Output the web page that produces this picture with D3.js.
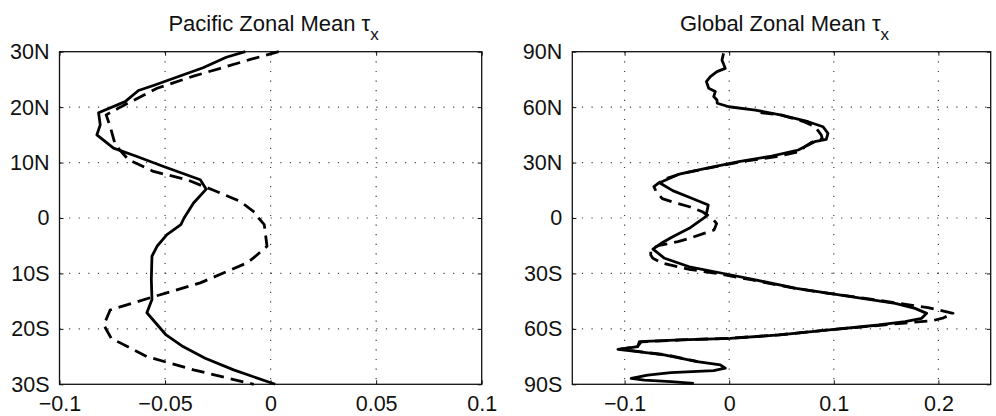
<!DOCTYPE html>
<html>
<head>
<meta charset="utf-8">
<script src="https://cdn.jsdelivr.net/npm/d3@7"></script>
<style>
  body { margin: 0; background: #fff; }
  text { font-family: "Liberation Sans", Arial, Helvetica, sans-serif; fill: #111; }
</style>
</head>
<body>
<script>
var WIDTH = 996;
var HEIGHT = 416;

// [latitude, tau_x]
var pacificSolid = [
  [30, -0.012], [29, -0.021], [27.1, -0.032], [23.9, -0.0555], [23.0, -0.0626],
  [21.0, -0.0689], [19.0, -0.0815], [16.8, -0.0807], [15.0, -0.0823], [12.6, -0.0744],
  [11.1, -0.0633], [9.3, -0.0507], [6.9, -0.0333], [5.2, -0.0305], [2.7, -0.0365],
  [0, -0.041], [-1.2, -0.0425], [-3.0, -0.0491], [-5.1, -0.0538], [-6.9, -0.0562],
  [-11.1, -0.0565], [-14.7, -0.0562], [-17.1, -0.0586], [-21.1, -0.0495],
  [-23.2, -0.0415], [-25.3, -0.031], [-27.4, -0.0175], [-30, 0.0022]
];
var pacificDashed = [
  [30, 0.0038], [28.6, -0.0096], [27.0, -0.0238], [25.6, -0.0365], [23.4, -0.0538],
  [20.0, -0.0712], [18.6, -0.0779], [16.5, -0.076], [13.2, -0.0736], [10.5, -0.0673],
  [8.4, -0.0555], [6.9, -0.0396], [5.0, -0.027], [3.0, -0.0144], [1.0, -0.0075],
  [0.0, -0.0057], [-1.2, -0.003], [-5.1, -0.0017], [-7.2, -0.0081], [-8.1, -0.0112],
  [-11.7, -0.0333], [-14.2, -0.0555], [-16.6, -0.076], [-19.3, -0.079],
  [-21.7, -0.0755], [-25.0, -0.0586], [-27.4, -0.0365], [-30, -0.008]
];
var globalSolid = [
  [89.1, -0.0054], [85.5, -0.0069], [81, -0.0038], [79.2, -0.0117], [76.5, -0.018],
  [73.8, -0.0218], [70.2, -0.0196], [68.4, -0.0133], [65.7, -0.0148], [63.9, -0.0117],
  [62.1, -0.0114], [60.2, -0.0003], [58.4, 0.025], [55.7, 0.05], [52.1, 0.0755],
  [49.4, 0.0897], [45.8, 0.0944], [42.6, 0.0928], [41.3, 0.0818], [39.5, 0.0755],
  [36.8, 0.066], [33.5, 0.0407], [30.5, 0.0092], [26.9, -0.0224], [23.8, -0.0476],
  [19.1, -0.0666], [14.8, -0.054], [11.2, -0.0382], [7.0, -0.02], [0.7, -0.0224],
  [-5.6, -0.0382], [-10.1, -0.054], [-13.7, -0.065], [-16.8, -0.0729], [-21.8, -0.0618],
  [-26.4, -0.0382], [-29.9, -0.0066], [-33.5, 0.025], [-38.1, 0.0641], [-40.8, 0.0956],
  [-43.5, 0.1272], [-46.2, 0.1588], [-48.9, 0.1777], [-51.6, 0.1888], [-54.3, 0.184],
  [-56.1, 0.1682], [-57.9, 0.143], [-60.6, 0.0956], [-63.3, 0.0483], [-65.1, 0.0009],
  [-66.0, -0.0464], [-66.9, -0.0859], [-69.6, -0.0874], [-71.1, -0.1064], [-72.3, -0.0874],
  [-74.1, -0.0622], [-77.7, -0.0306], [-79.5, -0.0085], [-81.3, -0.0038], [-82.6, -0.0148],
  [-83.7, -0.0559], [-85.0, -0.078], [-86.8, -0.0937], [-87.7, -0.0811], [-88.6, -0.0559],
  [-89.5, -0.0338]
];
var globalDashed = [
  [57, 0.03], [55.7, 0.05], [52, 0.072], [49.4, 0.082], [45, 0.088], [43, 0.089],
  [41, 0.079], [38.5, 0.072], [36, 0.068], [33.2, 0.045], [30.5, 0.012], [27, -0.02],
  [24, -0.046], [21, -0.062], [19.5, -0.066], [17, -0.072], [14.2, -0.0697],
  [10.5, -0.064], [8.8, -0.055], [6.1, -0.038], [3.4, -0.0256], [-0.2, -0.016],
  [-3, -0.012], [-6.5, -0.0145], [-8.3, -0.024], [-11.0, -0.038], [-12.8, -0.049],
  [-15, -0.068], [-17, -0.075], [-20, -0.075], [-21.8, -0.073], [-24.5, -0.0634],
  [-26.4, -0.049], [-27.8, -0.038], [-30, -0.012], [-33.5, 0.022], [-38, 0.062],
  [-40.8, 0.095], [-43.5, 0.13], [-46, 0.16], [-48.5, 0.19], [-51.6, 0.214],
  [-54, 0.205], [-55.5, 0.195], [-57, 0.165], [-58.5, 0.135], [-60.6, 0.094],
  [-63.3, 0.047], [-65.1, 0.0], [-66, -0.046], [-67, -0.084], [-69.6, -0.088],
  [-71, -0.104], [-72.3, -0.086], [-74.1, -0.06], [-77.7, -0.03]
];

var pacificXTicks = [-0.1, -0.05, 0, 0.05, 0.1];
var pacificXLabels = ["\u22120.1", "\u22120.05", "0", "0.05", "0.1"];
var pacificYTicks = [-30, -20, -10, 0, 10, 20, 30];
var pacificYLabels = ["30S", "20S", "10S", "0", "10N", "20N", "30N"];
var globalXTicks = [-0.1, 0, 0.1, 0.2];
var globalXLabels = ["\u22120.1", "0", "0.1", "0.2"];
var globalYTicks = [-90, -60, -30, 0, 30, 60, 90];
var globalYLabels = ["90S", "60S", "30S", "0", "30N", "60N", "90N"];

var svg = d3.select('body').append('svg')
    .attr('width', WIDTH)
    .attr('height', HEIGHT);

var translate = function (x, y) {
  return "translate(" + x + "," + y + ")";
};

var drawPanel = function (opt) {
  var w = opt.right - opt.left;
  var h = opt.bottom - opt.top;
  var x = d3.scaleLinear().domain(opt.xDomain).range([0, w]);
  var y = d3.scaleLinear().domain(opt.yDomain).range([h, 0]);

  var g = svg.append('g').attr('transform', translate(opt.left, opt.top));

  // dotted grid
  g.append('g').selectAll('line.gx')
    .data(opt.xTicks.filter(function (d) { return d > opt.xDomain[0] && d < opt.xDomain[1]; }))
    .enter().append('line')
    .attr('x1', function (d) { return x(d); }).attr('x2', function (d) { return x(d); })
    .attr('y1', 0).attr('y2', h)
    .attr('stroke', '#444').attr('stroke-width', 1.2)
    .attr('stroke-dasharray', '1.2,8.4');
  g.append('g').selectAll('line.gy')
    .data(opt.yTicks.filter(function (d) { return d > opt.yDomain[0] && d < opt.yDomain[1]; }))
    .enter().append('line')
    .attr('y1', function (d) { return y(d); }).attr('y2', function (d) { return y(d); })
    .attr('x1', 0).attr('x2', w)
    .attr('stroke', '#444').attr('stroke-width', 1.2)
    .attr('stroke-dasharray', '1.2,8.4');

  // axes with inward ticks
  var xLab = function (d) { return opt.xLabels[opt.xTicks.indexOf(d)]; };
  var yLab = function (d) { return opt.yLabels[opt.yTicks.indexOf(d)]; };

  var xAxis = g.append('g').attr('transform', translate(0, h))
    .call(d3.axisBottom(x).tickValues(opt.xTicks).tickFormat(xLab)
      .tickSizeInner(-4).tickSizeOuter(0).tickPadding(10));
  var yAxis = g.append('g')
    .call(d3.axisLeft(y).tickValues(opt.yTicks).tickFormat(yLab)
      .tickSizeInner(-4).tickSizeOuter(0).tickPadding(10));
  g.append('g')
    .call(d3.axisTop(x).tickValues(opt.xTicks).tickFormat('')
      .tickSizeInner(-4).tickSizeOuter(0));
  g.append('g').attr('transform', translate(w, 0))
    .call(d3.axisRight(y).tickValues(opt.yTicks).tickFormat('')
      .tickSizeInner(-4).tickSizeOuter(0));

  g.selectAll('.domain').remove();
  g.selectAll('.tick line').attr('stroke', '#111').attr('stroke-width', 1);
  xAxis.selectAll('text').attr('font-size', 21.5).attr('fill', '#111')
    .attr('dy', null).attr('y', 27);
  yAxis.selectAll('text').attr('font-size', 21.5).attr('fill', '#111');

  // frame
  g.append('rect').attr('width', w).attr('height', h)
    .attr('fill', 'none').attr('stroke', '#111').attr('stroke-width', 1.3);

  var line = d3.line()
    .x(function (d) { return x(d[1]); })
    .y(function (d) { return y(d[0]); });

  g.append('path').attr('d', line(opt.dashed))
    .attr('fill', 'none').attr('stroke', '#000').attr('stroke-width', 2.8)
    .attr('stroke-dasharray', '13,7').attr('stroke-linejoin', 'round');
  g.append('path').attr('d', line(opt.solid))
    .attr('fill', 'none').attr('stroke', '#000').attr('stroke-width', 2.8)
    .attr('stroke-linejoin', 'round');

  // title
  var t = svg.append('text')
    .attr('x', opt.left + w / 2 + 3).attr('y', 31)
    .attr('text-anchor', 'middle').attr('font-size', 22);
  t.append('tspan').text(opt.title + ' \u03c4');
  t.append('tspan').attr('dy', 9).attr('font-size', 17).text('x');
};

drawPanel({
  left: 59.5, right: 481.7, top: 51.7, bottom: 384.3,
  xDomain: [-0.1, 0.1], yDomain: [-30, 30],
  xTicks: pacificXTicks, xLabels: pacificXLabels,
  yTicks: pacificYTicks, yLabels: pacificYLabels,
  solid: pacificSolid, dashed: pacificDashed,
  title: 'Pacific Zonal Mean'
});

drawPanel({
  left: 572.3, right: 990.7, top: 51.7, bottom: 384.3,
  xDomain: [-0.15, 0.25], yDomain: [-90, 90],
  xTicks: globalXTicks, xLabels: globalXLabels,
  yTicks: globalYTicks, yLabels: globalYLabels,
  solid: globalSolid, dashed: globalDashed,
  title: 'Global Zonal Mean'
});
</script>
</body>
</html>
